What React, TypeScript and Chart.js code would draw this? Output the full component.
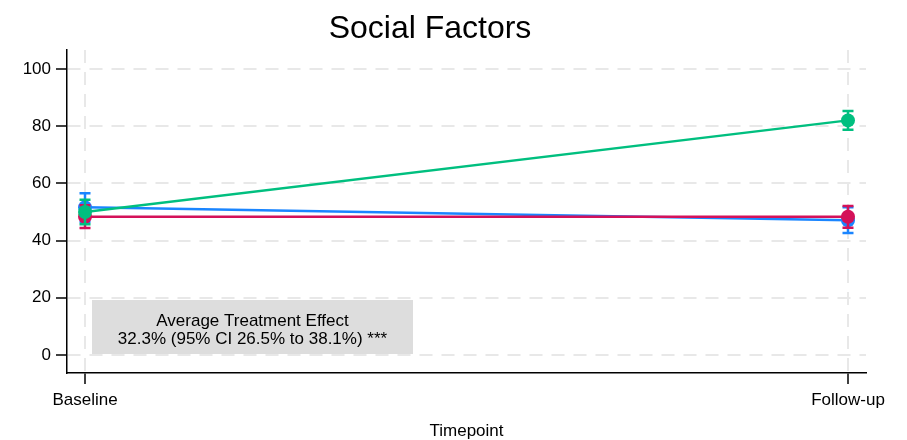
import React, { useEffect, useRef } from "react";
import { Chart, registerables } from "chart.js";

Chart.register(...registerables);

// Categories on the x axis (positions 0 and 1)
const timepoints = ["Baseline", "Follow-up"];

// Group means with 95% confidence limits at each timepoint
const blueMean = [51.6, 47.1];
const blueLow = [46.6, 42.6];
const blueHigh = [56.5, 51.6];

const redMean = [48.3, 48.3];
const redLow = [44.4, 44.5];
const redHigh = [52.3, 52.1];

const greenMean = [50.0, 82.0];
const greenLow = [45.7, 78.7];
const greenHigh = [54.3, 85.3];

// Axis ticks
const yTicks = [0, 20, 40, 60, 80, 100];

// Texts
const chartTitle = "Social Factors";
const xAxisTitle = "Timepoint";
const effectLines = ["Average Treatment Effect", "32.3% (95% CI 26.5% to 38.1%) ***"];

const FONT = "'Liberation Sans', Arial, Helvetica, sans-serif";

type Series = { color: string; mean: number[]; low: number[]; high: number[]; order: number };

const series: Series[] = [
  { color: "#1a85ff", mean: blueMean, low: blueLow, high: blueHigh, order: 3 },
  { color: "#d41159", mean: redMean, low: redLow, high: redHigh, order: 2 },
  { color: "#00bf7f", mean: greenMean, low: greenLow, high: greenHigh, order: 1 },
];

// Draws each group's confidence interval whiskers just before its line and markers
const errorBarPlugin = {
  id: "errorBars",
  beforeDatasetDraw(chart: any, args: any) {
    const s = series[args.index];
    if (!s) return;
    const { ctx, scales } = chart;
    const xs = scales.x;
    const ys = scales.y;
    ctx.save();
    ctx.strokeStyle = s.color;
    ctx.lineWidth = 2.5;
    const cap = 5.5;
    s.mean.forEach((_, i) => {
      const x = xs.getPixelForValue(i);
      const yl = ys.getPixelForValue(s.low[i]);
      const yh = ys.getPixelForValue(s.high[i]);
      ctx.beginPath();
      ctx.moveTo(x, yl);
      ctx.lineTo(x, yh);
      ctx.moveTo(x - cap, yl);
      ctx.lineTo(x + cap, yl);
      ctx.moveTo(x - cap, yh);
      ctx.lineTo(x + cap, yh);
      ctx.stroke();
    });
    ctx.restore();
  },
};

// Title, x-axis title and the treatment-effect note box
const textPlugin = {
  id: "texts",
  afterDraw(chart: any) {
    const { ctx, chartArea } = chart;
    ctx.save();
    ctx.fillStyle = "#000";
    ctx.textAlign = "center";
    ctx.textBaseline = "alphabetic";

    ctx.font = `32px ${FONT}`;
    ctx.fillText(chartTitle, 430, 38);

    ctx.font = `17px ${FONT}`;
    ctx.fillText(xAxisTitle, (chartArea.left + chartArea.right) / 2, 436);

    const bx = chartArea.left + 25;
    const by = chartArea.bottom - 73;
    const bw = 321;
    const bh = 54;
    ctx.fillStyle = "#dddddd";
    ctx.fillRect(bx, by, bw, bh);
    ctx.fillStyle = "#000";
    ctx.fillText(effectLines[0], bx + bw / 2, by + 26);
    ctx.fillText(effectLines[1], bx + bw / 2, by + 43.5);
    ctx.restore();
  },
};

export default function App() {
  const canvasRef = useRef<HTMLCanvasElement | null>(null);

  useEffect(() => {
    document.body.style.margin = "0";
    const canvas = canvasRef.current;
    if (!canvas) return;

    const gridCommon = {
      color: "#e8e8e8",
      lineWidth: 2,
      drawTicks: true,
      tickLength: 11,
      tickColor: "#000",
      tickWidth: 1.5,
      tickBorderDash: [],
    };

    const chart = new Chart(canvas, {
      type: "line",
      data: {
        datasets: series.map((s, k) => ({
          label: `group ${k + 1}`,
          data: s.mean.map((y, i) => ({ x: i, y })),
          borderColor: s.color,
          backgroundColor: s.color,
          borderWidth: 2.5,
          pointRadius: 7,
          pointBorderWidth: 0,
          pointBackgroundColor: s.color,
          tension: 0,
          fill: false,
          order: s.order,
        })),
      },
      options: {
        responsive: false,
        animation: false,
        events: [],
        layout: { padding: { top: 50, right: 41, bottom: 0, left: 0 } },
        plugins: {
          legend: { display: false },
          tooltip: { enabled: false },
          title: { display: false },
        },
        scales: {
          x: {
            type: "linear",
            min: -0.0236,
            max: 1.0236,
            afterBuildTicks: (s: any) => {
              s.ticks = timepoints.map((_, i) => ({ value: i }));
            },
            afterFit: (s: any) => {
              s.height = 67;
            },
            ticks: {
              callback: (v: any) => timepoints[v as number] ?? "",
              color: "#000",
              font: { family: FONT, size: 17 },
              padding: 6,
              maxRotation: 0,
              autoSkip: false,
            },
            grid: gridCommon,
            border: { display: true, color: "#000", width: 1.5, dash: [13, 9] },
          },
          y: {
            type: "linear",
            min: -6.3,
            max: 106.6,
            afterBuildTicks: (s: any) => {
              s.ticks = yTicks.map((v) => ({ value: v }));
            },
            afterFit: (s: any) => {
              s.width = 67;
            },
            ticks: {
              color: "#000",
              font: { family: FONT, size: 17 },
              padding: 5,
            },
            grid: gridCommon,
            border: { display: true, color: "#000", width: 1.5, dash: [13, 9] },
          },
        },
      } as any,
      plugins: [errorBarPlugin, textPlugin],
    });

    return () => chart.destroy();
  }, []);

  return (
    <div style={{ width: 907, height: 440, background: "#fff" }}>
      <canvas ref={canvasRef} width={907} height={440} />
    </div>
  );
}
